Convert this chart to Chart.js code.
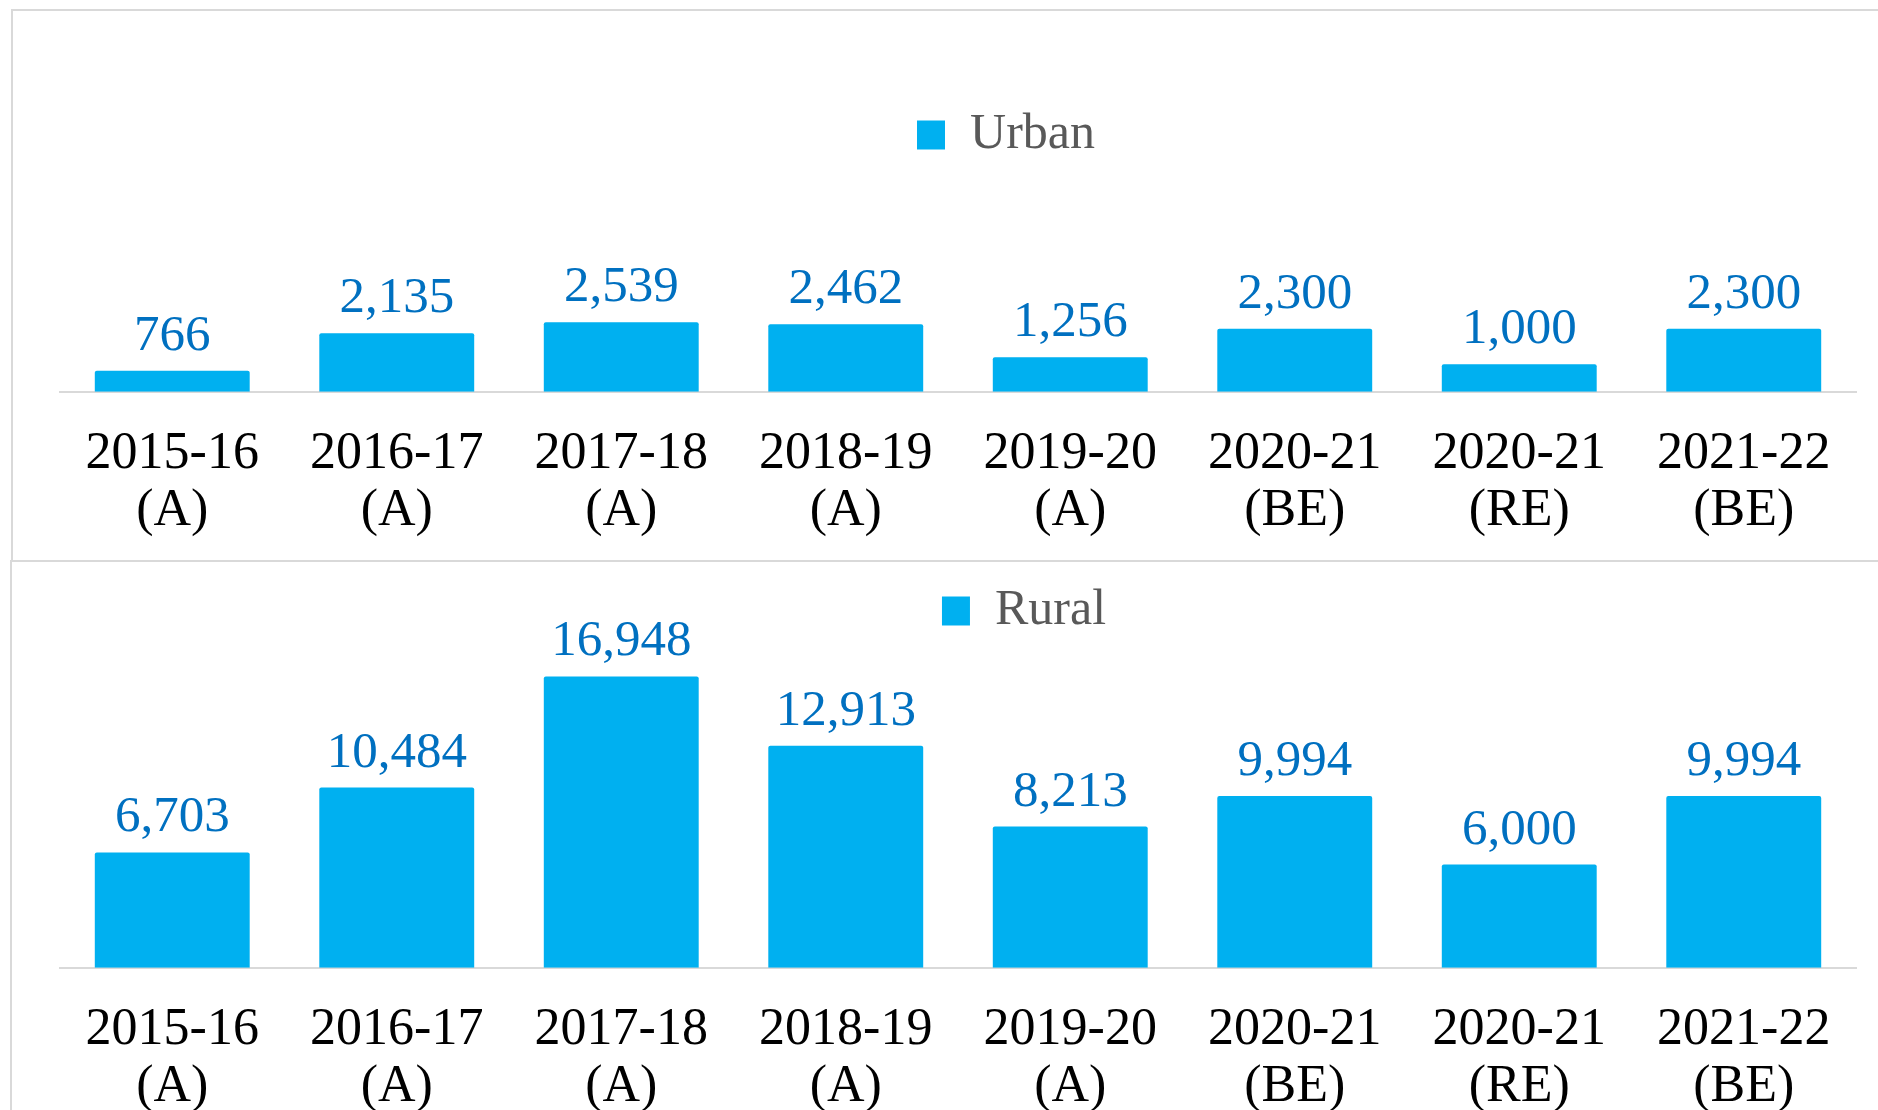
<!DOCTYPE html>
<html>
<head>
<meta charset="utf-8">
<script src="https://cdn.jsdelivr.net/npm/chart.js@4.4.1/dist/chart.umd.min.js"></script>
<style>
	body { margin: 0; background: #fff; width: 1878px; height: 1110px; overflow: hidden; position: relative; }
	.panel { position: absolute; border: 2px solid #D9D9D9; box-sizing: border-box; }
	canvas { position: absolute; }
</style>
</head>
<body>
<div class="panel" style="left:11px;top:9px;width:1900px;height:553px"></div>
<div class="panel" style="left:10px;top:560px;width:1900px;height:620px"></div>
<canvas id="urbanChart" width="1866" height="564" style="left:12px;top:10px"></canvas>
<canvas id="ruralChart" width="1866" height="600" style="left:12px;top:560px"></canvas>
<script>
	// years and estimate type (A = actual, BE = budget est., RE = revised est.)
	var years = ['2015-16', '2016-17', '2017-18', '2018-19', '2019-20', '2020-21', '2020-21', '2021-22'];
	var estimateTypes = ['(A)', '(A)', '(A)', '(A)', '(A)', '(BE)', '(RE)', '(BE)'];

	var urbanValues = [766, 2135, 2539, 2462, 1256, 2300, 1000, 2300];
	var ruralValues = [6703, 10484, 16948, 12913, 8213, 9994, 6000, 9994];

	var tickLabels = years.map(function (y, i) { return [y, estimateTypes[i]]; });

	var fontFamily = '"Liberation Serif", "DejaVu Serif", serif';
	var barColor = '#00B0F0';

	// values above the bars
	var barValueLabels = {
		id: 'barValueLabels',
		afterDatasetsDraw: function (chart) {
			var ctx = chart.ctx;
			var ds = chart.data.datasets[0];
			var meta = chart.getDatasetMeta(0);
			ctx.save();
			ctx.font = '51px ' + fontFamily;
			ctx.fillStyle = '#0070C0';
			ctx.textAlign = 'center';
			ctx.textBaseline = 'alphabetic';
			meta.data.forEach(function (bar, i) {
				ctx.fillText(ds.data[i].toLocaleString('en-US'), bar.x, bar.y - 21);
			});
			ctx.restore();
		}
	};

	// legend in the original sits a bit right of centre
	var legendShift = {
		id: 'legendShift',
		afterLayout: function (chart, args, opts) {
			if (chart.legend && opts.dx) {
				chart.legend.left += opts.dx;
				chart.legend.right += opts.dx;
			}
		}
	};

	function makeChart(id, label, values, yMax, padTop, padBottom, legendDx)
	{
		return new Chart(document.getElementById(id), {
			type: 'bar',
			data: {
				labels: tickLabels,
				datasets: [{
					label: label,
					data: values,
					backgroundColor: barColor,
					borderRadius: 2,
					barPercentage: 0.69,
					categoryPercentage: 1
				}]
			},
			options: {
				responsive: false,
				animation: false,
				layout: { padding: { top: padTop, left: 48, right: 22, bottom: padBottom } },
				plugins: {
					legend: {
						position: 'top',
						labels: {
							boxWidth: 28,
							boxHeight: 29,
							padding: 10,
							color: '#595959',
							font: { family: fontFamily, size: 50 }
						}
					},
					tooltip: { enabled: false },
					legendShift: { dx: legendDx }
				},
				scales: {
					x: {
						grid: { display: false, drawTicks: false },
						border: { display: true, color: '#D9D9D9', width: 2 },
						ticks: {
							color: '#000',
							padding: 35,
							maxRotation: 0,
							autoSkip: false,
							font: { family: fontFamily, size: 52, lineHeight: 1.08 }
						}
					},
					y: { display: false, min: 0, max: yMax }
				}
			},
			plugins: [barValueLabels, legendShift]
		});
	}

	makeChart('urbanChart', 'Urban', urbanValues, 8100, 90, 0, 48);
	makeChart('ruralChart', 'Rural', ruralValues, 18720, 16, 10, 66);
</script>
</body>
</html>
